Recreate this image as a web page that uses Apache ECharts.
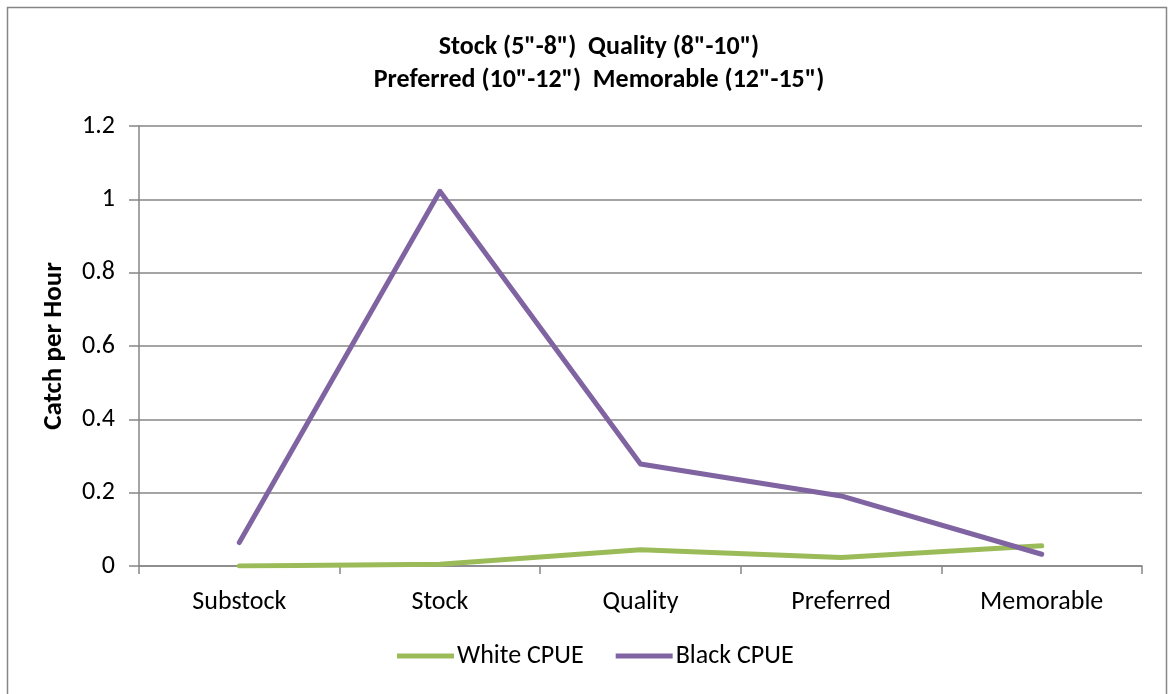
<!DOCTYPE html>
<html>
<head>
<meta charset="utf-8">
<script src="https://cdn.jsdelivr.net/npm/echarts@6/dist/echarts.min.js"></script>
<style>
  html, body { margin: 0; padding: 0; background: #fff; }
  #main { width: 1169px; height: 694px; }
</style>
</head>
<body>
<div id="main"></div>
<script>
// data
var categories = ['Substock', 'Stock', 'Quality', 'Preferred', 'Memorable'];
var whiteCpue = [0.0, 0.005, 0.044, 0.023, 0.055];
var blackCpue = [0.064, 1.022, 0.278, 0.191, 0.032];

var chart = echarts.init(document.getElementById('main'));
var font = 'Carlito, "Open Sans", "Noto Sans", sans-serif';

chart.setOption({
  backgroundColor: '#fff',
  animation: false,
  title: {
    text: 'Stock (5"-8")  Quality (8"-10")\nPreferred (10"-12")  Memorable (12"-15")',
    left: 594,
    textAlign: 'center',
    top: 26,
    textStyle: { fontFamily: font, fontSize: 26, fontWeight: 'bold', color: '#000', lineHeight: 33 }
  },
  graphic: [{
    type: 'rect',
    shape: { x: 7.5, y: 7.5, width: 1159, height: 700 },
    style: { fill: 'none', stroke: '#868686', lineWidth: 1.5 },
    silent: true
  }],
  legend: {
    bottom: 20,
    left: 392,
    itemWidth: 57,
    itemHeight: 5,
    itemGap: 32,
    icon: 'rect',
    textStyle: { fontFamily: font, fontSize: 26, color: '#000', padding: [0, 0, 0, -2] },
    data: ['White CPUE', 'Black CPUE']
  },
  grid: { left: 139, right: 27, top: 126, bottom: 128 },
  xAxis: {
    type: 'category',
    data: categories,
    boundaryGap: true,
    axisLine: { lineStyle: { color: '#868686', width: 1.5 } },
    axisTick: { show: true, length: 8, lineStyle: { color: '#868686', width: 1.5 } },
    axisLabel: { fontFamily: font, fontSize: 26, color: '#000', margin: 23 }
  },
  yAxis: {
    type: 'value',
    min: 0,
    max: 1.2,
    interval: 0.2,
    name: 'Catch per Hour',
    nameLocation: 'middle',
    nameGap: 71,
    nameTextStyle: { fontFamily: font, fontSize: 27, fontWeight: 'bold', color: '#000' },
    axisLine: { show: true, lineStyle: { color: '#868686', width: 1.5 } },
    axisTick: { show: true, length: 10, lineStyle: { color: '#868686', width: 1.5 } },
    axisLabel: {
      fontFamily: font, fontSize: 26, color: '#000', margin: 24,
      formatter: function (v) { return String(Math.round(v * 10) / 10); }
    },
    splitLine: { lineStyle: { color: '#868686', width: 1.5 } }
  },
  series: [{
    name: 'White CPUE',
    type: 'line',
    data: whiteCpue,
    symbol: 'none',
    color: '#9BBB59',
    lineStyle: { width: 5, cap: 'round', join: 'round' }
  }, {
    name: 'Black CPUE',
    type: 'line',
    data: blackCpue,
    symbol: 'none',
    color: '#8064A2',
    lineStyle: { width: 5, cap: 'round', join: 'round' }
  }]
});
</script>
</body>
</html>
